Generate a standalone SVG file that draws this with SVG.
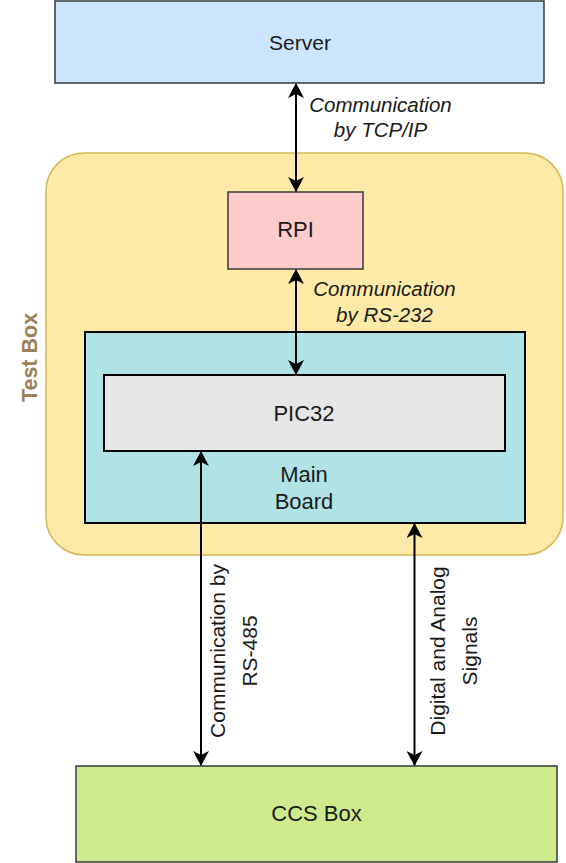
<svg xmlns="http://www.w3.org/2000/svg" width="566" height="863" viewBox="0 0 566 863">
<style>
  .lbl { font-family: "Liberation Sans", Arial, sans-serif; fill: #1a1a1a; text-anchor: middle; }
  .it { font-family: "Liberation Sans", Arial, sans-serif; font-style: italic; fill: #1a1a1a; text-anchor: middle; font-size: 20.5px; }
  .rot { font-family: "Liberation Sans", Arial, sans-serif; fill: #1a1a1a; text-anchor: middle; font-size: 21px; }
  .conn { stroke: #000; stroke-width: 2; fill: none; marker-start: url(#arr); marker-end: url(#arr); }
</style>
<defs>
  <marker id="arr" viewBox="0 0 15 16" refX="14" refY="8" markerWidth="15" markerHeight="16" markerUnits="userSpaceOnUse" orient="auto-start-reverse">
    <path d="M0,0 L15,8 L0,16 L4,8 Z" fill="#000"/>
  </marker>
</defs>
<rect width="566" height="863" fill="#fff"/>
<g id="testbox">
  <rect x="46" y="153" width="517" height="402" rx="38" ry="38" fill="#ffeaa7" stroke="#d6b656" stroke-width="1.5"/>
  <text x="36.5" y="357.5" transform="rotate(-90 36.5 357.5)" font-family="Liberation Sans, Arial, sans-serif" font-weight="bold" font-size="21.5" fill="#9a8055" text-anchor="middle">Test Box</text>
</g>
<g id="server">
  <rect x="55" y="1" width="489" height="82" fill="#cce5ff" stroke="#36393d" stroke-width="1.5"/>
  <text class="lbl" x="300" y="50" font-size="21">Server</text>
</g>
<g id="rpi">
  <rect x="228" y="192" width="135" height="77" fill="#ffcccc" stroke="#36393d" stroke-width="1.5"/>
  <text class="lbl" x="295.5" y="237" font-size="22">RPI</text>
</g>
<g id="mainboard">
  <rect x="85" y="332" width="440" height="191" fill="#b0e3e6" stroke="#000" stroke-width="2"/>
  <text class="lbl" x="304" y="482" font-size="22">Main</text>
  <text class="lbl" x="304" y="509" font-size="22">Board</text>
</g>
<g id="pic32">
  <rect x="104" y="375" width="401" height="76" fill="#e6e6e6" stroke="#000" stroke-width="2"/>
  <text class="lbl" x="304" y="421" font-size="22">PIC32</text>
</g>
<g id="ccs">
  <rect x="76" y="766" width="481" height="96" fill="#cdeb8b" stroke="#36393d" stroke-width="1.5"/>
  <text class="lbl" x="316.5" y="821" font-size="22">CCS Box</text>
</g>
<g id="connectors">
  <line class="conn" x1="296" y1="84" x2="296" y2="191"/>
  <line class="conn" x1="296" y1="270" x2="296" y2="374"/>
  <line class="conn" x1="201" y1="452" x2="201" y2="765"/>
  <line class="conn" x1="414.5" y1="524" x2="414.5" y2="765"/>
  <text class="it" x="380.5" y="112">Communication</text>
  <text class="it" x="380.5" y="137">by TCP/IP</text>
  <text class="it" x="384.5" y="296">Communication</text>
  <text class="it" x="384.5" y="322">by RS-232</text>
  <text class="rot" transform="translate(225 651) rotate(-90)"><tspan x="0" y="0">Communication by</tspan><tspan x="0" y="31.5">RS-485</tspan></text>
  <text class="rot" transform="translate(445 651) rotate(-90)"><tspan x="0" y="0">Digital and Analog</tspan><tspan x="0" y="31.5">Signals</tspan></text>
</g>
</svg>
